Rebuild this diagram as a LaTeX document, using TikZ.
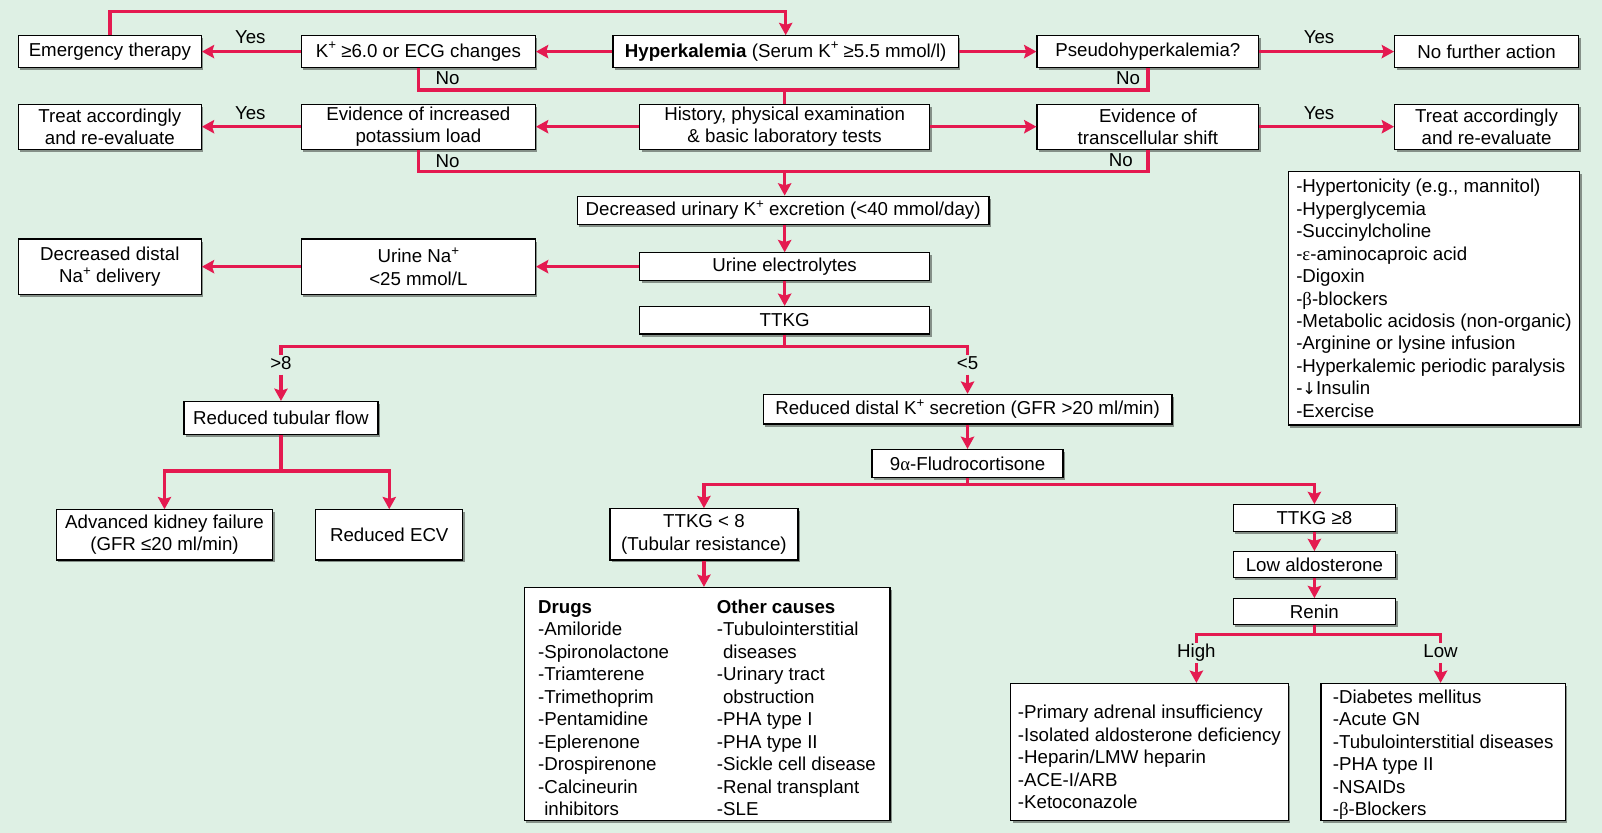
\documentclass[tikz,border=0pt]{standalone}
\usepackage{fontspec}
\setmainfont{Liberation Sans}
\newfontfamily\grk{Liberation Serif}
\newfontfamily\dv{DejaVu Sans}
\usetikzlibrary{arrows.meta,shadows,calc}
\definecolor{bg}{RGB}{222,240,228}
\definecolor{arrc}{RGB}{228,26,80}
\newcommand\fs{\fontsize{18.3}{22}\selectfont}
\newcommand\kp{\raisebox{0.72ex}{\fontsize{13}{13}\selectfont +}}
\begin{document}
\begin{tikzpicture}[x=1pt,y=-1pt,
  every node/.style={font=\fs},
  box/.style={draw=black, line width=1.2pt, fill=white, inner sep=0pt, align=center,
    drop shadow={shadow xshift=2pt,shadow yshift=-2.5pt,fill=black,opacity=0.4}},
  arr/.style={draw=arrc, line width=3.4pt, -{Stealth[length=12pt,width=13pt,inset=2pt]}},
  ln/.style={draw=arrc, line width=3.4pt},
  lbl/.style={inner sep=1pt, text height=13pt, text depth=4pt}]
\fill[bg] (0,0) rectangle (1568,815);
\useasboundingbox (0,0) rectangle (1568,815);

% row 1
\node[box, minimum width=179pt, minimum height=31pt] (emerg) at (107.5,50.5) {Emergency therapy};
\node[box, minimum width=229pt, minimum height=31pt] (kbox) at (409.5,50.5) {K\kp\ ≥6.0 or ECG changes};
\node[box, minimum width=338pt, minimum height=31pt] (hyper) at (769,50.5) {\textbf{Hyperkalemia} (Serum K\kp\ ≥5.5 mmol/l)};
\node[box, minimum width=217pt, minimum height=31pt] (pseudo) at (1123.5,50.5) {Pseudohyperkalemia?};
\node[box, minimum width=180pt, minimum height=31pt] (nofa) at (1455,50.5) {No further action};

% row 2
\node[box, minimum width=179pt, minimum height=44pt] (treatL) at (107.5,124) {Treat accordingly\\and re-evaluate};
\node[box, minimum width=229pt, minimum height=44pt] (evid) at (409.5,124) {Evidence of increased\\potassium load};
\node[box, minimum width=284pt, minimum height=44pt] (hist) at (768,124) {History, physical examination\\\& basic laboratory tests};
\node[box, minimum width=217pt, minimum height=44pt] (trans) at (1123.5,124) {Evidence of\\transcellular shift};
\node[box, minimum width=180pt, minimum height=44pt] (treatR) at (1455,124) {Treat accordingly\\and re-evaluate};

% middle
\node[box, minimum width=403pt, minimum height=28pt] (decur) at (766.5,206) {Decreased urinary K\kp\ excretion (<40 mmol/day)};
\node[box, minimum width=284pt, minimum height=27pt] (urel) at (768,261) {Urine electrolytes};
\node[box, minimum width=229pt, minimum height=54pt] (urna) at (409.5,261) {Urine Na\kp\\<25 mmol/L};
\node[box, minimum width=179pt, minimum height=54pt] (decdist) at (107.5,261) {Decreased distal\\Na\kp\ delivery};
\node[box, minimum width=284pt, minimum height=27pt] (ttkg) at (768,313.5) {TTKG};

\node[box, minimum width=190pt, minimum height=32pt] (rtf) at (275,409) {Reduced tubular flow};
\node[box, minimum width=400pt, minimum height=29pt] (rdks) at (947,400.5) {Reduced distal K\kp\ secretion (GFR >20 ml/min)};
\node[box, minimum width=187pt, minimum height=27pt] (fludro) at (947,453.5) {9{\grk α}-Fludrocortisone};
\node[box, minimum width=212pt, minimum height=49pt] (akf) at (161,523.5) {Advanced kidney failure\\(GFR ≤20 ml/min)};
\node[box, minimum width=144pt, minimum height=49pt] (recv) at (381,523.5) {Reduced ECV};

\node[box, minimum width=184pt, minimum height=50pt] (ttkglt) at (689,523) {TTKG < 8\\(Tubular resistance)};
\node[box, minimum width=358pt, minimum height=228pt] (drugs) at (692,689) {%
\raisebox{-6pt}[\height][\depth]{\begin{tabular}{@{}p{175pt}@{}l@{}}
\textbf{Drugs} & \textbf{Other causes}\\
-Amiloride & -Tubulointerstitial\\
-Spironolactone & \hspace{6pt}diseases\\
-Triamterene & -Urinary tract\\
-Trimethoprim & \hspace{6pt}obstruction\\
-Pentamidine & -PHA type I\\
-Eplerenone & -PHA type II\\
-Drospirenone & -Sickle cell disease\\
-Calcineurin & -Renal transplant\\
\hspace{6pt}inhibitors & -SLE
\end{tabular}}};

\node[box, minimum width=159pt, minimum height=26pt] (ttkgge) at (1286.5,507) {TTKG ≥8};
\node[box, minimum width=159pt, minimum height=25pt] (lowald) at (1286.5,552.5) {Low aldosterone};
\node[box, minimum width=159pt, minimum height=25pt] (renin) at (1286.5,598.5) {Renin};
\node[box, minimum width=272pt, minimum height=134pt] (high) at (1125,736) {%
\raisebox{-7pt}[\height][\depth]{\begin{tabular}{@{}l@{}}-Primary adrenal insufficiency\\-Isolated aldosterone deficiency\\-Heparin/LMW heparin\\-ACE-I/ARB\\-Ketoconazole\end{tabular}}};
\node[box, minimum width=239pt, minimum height=134pt] (low) at (1412.5,736) {%
\raisebox{-3pt}[\height][\depth]{\begin{tabular}{@{}l@{}}-Diabetes mellitus\\-Acute GN\\-Tubulointerstitial diseases\\-PHA type II\\-NSAIDs\\-{\grk β}-Blockers\end{tabular}}};

\node[box, minimum width=285pt, minimum height=248pt, align=left] (shift) at (1403.5,292) {-Hypertonicity (e.g., mannitol)\\-Hyperglycemia\\-Succinylcholine\\-{\grk ε}-aminocaproic acid\\-Digoxin\\-{\grk β}-blockers\\-Metabolic acidosis (non-organic)\\-Arginine or lysine infusion\\-Hyperkalemic periodic paralysis\\-{\dv\fontsize{16}{22}\selectfont ↓}Insulin\\-Exercise};

% labels
\node[lbl] (yes1) at (245,38) {Yes};
\node[lbl] (yes2) at (1291,38) {Yes};
\node[lbl] (yes3) at (245,112) {Yes};
\node[lbl] (yes4) at (1291,112) {Yes};
\node[lbl] (no1) at (438,78) {No};
\node[lbl] (no2) at (1104,78) {No};
\node[lbl] (no3) at (438,159) {No};
\node[lbl] (no4) at (1097,158) {No};
\node[lbl] (gt8) at (275,357) {>8};
\node[lbl] (lt5) at (947,357) {<5};
\node[lbl] (hi) at (1171,639) {High};
\node[lbl] (lo) at (1410,639) {Low};

% helper coordinates
\coordinate (ytop) at (0,11);
\coordinate (yno1) at (0,88);
\coordinate (yno2) at (0,168);
\coordinate (ybr) at (0,339);
\coordinate (yb2) at (0,474);
\coordinate (yb3) at (0,621);
\coordinate (yb4) at (0,461);

% connectors
\draw[arr] (emerg.north) |- (hyper.north |- ytop) -- (hyper.north);
\draw[arr] (hyper.west) -- (kbox.east);
\draw[arr] (kbox.west) -- (emerg.east);
\draw[arr] (hyper.east) -- (pseudo.west);
\draw[arr] (pseudo.east) -- (nofa.west);
\draw[ln] (kbox.south) |- (pseudo.south |- yno1) -- (pseudo.south);
\draw[ln] (hist.north |- yno1) -- (hist.north);
\draw[arr] (hist.west) -- (evid.east);
\draw[arr] (hist.east) -- (trans.west);
\draw[arr] (evid.west) -- (treatL.east);
\draw[arr] (trans.east) -- (treatR.west);
\draw[ln] (evid.south) |- (trans.south |- yno2) -- (trans.south);
\draw[arr] (hist.south |- yno2) -- (hist.south |- decur.north);
\draw[arr] (urel.north |- decur.south) -- (urel.north);
\draw[arr] (urel.west) -- (urna.east);
\draw[arr] (urna.west) -- (decdist.east);
\draw[arr] (urel.south) -- (ttkg.north);
% TTKG branch
\draw[ln] (ttkg.south) -- (ttkg.south |- ybr) -| (gt8.north);
\draw[ln] (ttkg.south |- ybr) -| (lt5.north);
\draw[arr] (gt8.south) -- (rtf.north);
\draw[arr] (lt5.south) -- (rdks.north);
% reduced tubular flow branch
\draw[arr] (rtf.south) -- (rtf.south |- yb4) -| (akf.north);
\draw[arr] (rtf.south |- yb4) -| (recv.north);
% distal secretion
\draw[arr] (rdks.south) -- (fludro.north);
\draw[arr] (fludro.south) -- (fludro.south |- yb2) -| (ttkglt.north);
\draw[arr] (fludro.south |- yb2) -| (ttkgge.north);
\draw[arr] (ttkglt.south) -- (ttkglt.south |- drugs.north);
\draw[arr] (ttkgge.south) -- (lowald.north);
\draw[arr] (lowald.south) -- (renin.north);
\draw[ln] (renin.south) -- (renin.south |- yb3) -| (hi.north);
\draw[ln] (renin.south |- yb3) -| (lo.north);
\draw[arr] (hi.south) -- (hi.south |- high.north);
\draw[arr] (lo.south) -- (lo.south |- low.north);
\end{tikzpicture}
\end{document}
